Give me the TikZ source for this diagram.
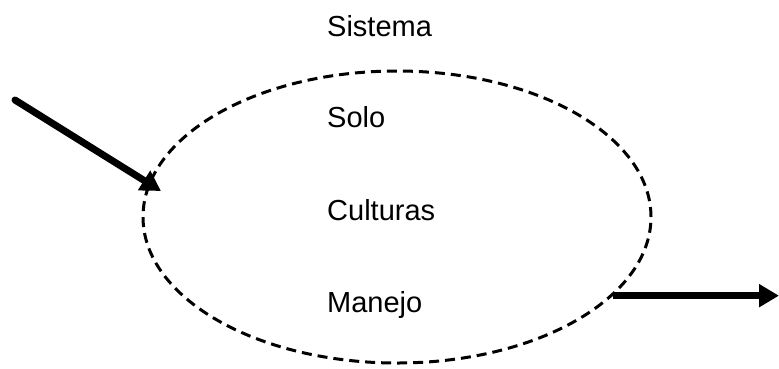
\documentclass[tikz,border=0pt]{standalone}
\usepackage{fontspec}
\setmainfont{Liberation Sans}
\usetikzlibrary{shapes.geometric,arrows.meta}

\begin{document}
\begin{tikzpicture}[x=1pt,y=-1pt,line join=round,
	font=\fontsize{29}{34}\selectfont,
	rotulo/.style={anchor=base west,inner sep=0pt},
	seta/.style={line width=7pt,-{Triangle[length=20pt,width=22pt]}}]
	\useasboundingbox (0,0) rectangle (779,368);
	\def\xt{327} % coluna dos textos
	\node[draw,ellipse,line width=3pt,dash pattern=on 10pt off 6pt,
		minimum width=508pt,minimum height=292pt,inner sep=0pt] (sistema) at (397,217) {};
	\node[rotulo] (tsis) at (\xt,36) {Sistema};
	\node[rotulo] (solo) at (\xt,127) {Solo};
	\node[rotulo] (cult) at (\xt,220) {Culturas};
	\node[rotulo] (man) at (\xt,312) {Manejo};
	\coordinate (ent) at (15,100);
	\coordinate (entfim) at (161,191);
	\coordinate (sai) at (779,297);
	\draw[seta,line cap=round] (ent) -- (entfim);
	\draw[seta] (sistema.-20.6) -- (sistema.-20.6 -| sai);
\end{tikzpicture}
\end{document}
